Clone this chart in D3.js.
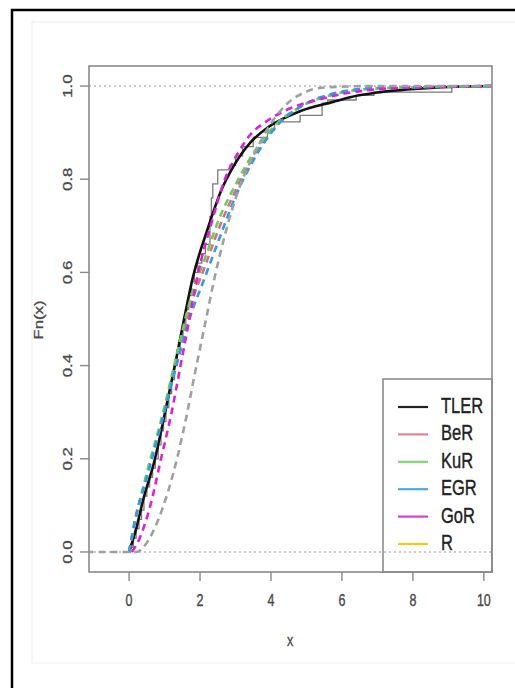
<!DOCTYPE html>
<html>
<head>
<meta charset="utf-8">
<script src="https://cdn.jsdelivr.net/npm/d3@7"></script>
<style>
	body { margin: 0; background: #fff; }
	text { font-family: "Liberation Sans", Arial, sans-serif; }
</style>
</head>
<body>
<div id="chart"></div>
<script>
// values
var xTicks = [0, 2, 4, 6, 8, 10];
var yTicks = [0, 0.2, 0.4, 0.6, 0.8, 1.0];

var legendNames = ["TLER", "BeR", "KuR", "EGR", "GoR", "R"];
var legendColors = ["#222222", "#e8808f", "#7fd86f", "#4aa8ee", "#d63fd0", "#f5c518"];

// empirical cdf: jump locations and level after each jump
var ecdfX = [0.05, 0.12, 0.2, 0.28, 0.35, 0.42, 0.5, 0.58, 0.66, 0.74, 0.82, 0.9, 0.97, 1.04,
	1.12, 1.2, 1.28, 1.36, 1.44, 1.52, 1.6, 1.68, 1.76, 1.84, 1.93, 2.05, 2.15, 2.28, 2.32,
	2.36, 2.5, 2.85, 3.0, 3.2, 3.5, 3.9, 4.1, 4.82, 5.44, 5.6, 6.4, 6.9, 9.1];
var ecdfF = [0.01, 0.03, 0.05, 0.07, 0.09, 0.12, 0.14, 0.16, 0.18, 0.2, 0.23, 0.26, 0.28, 0.31,
	0.34, 0.37, 0.4, 0.43, 0.46, 0.49, 0.52, 0.55, 0.58, 0.6, 0.62, 0.64, 0.66, 0.72, 0.76,
	0.79, 0.82, 0.83, 0.85, 0.87, 0.89, 0.905, 0.923, 0.937, 0.963, 0.97, 0.98, 0.987, 1.0];

// fitted cdfs, points
var tlerPts = [[0, 0], [0.2, 0.05], [0.39, 0.11], [0.73, 0.2], [0.96, 0.28], [1.29, 0.4], [1.55, 0.5],
	[1.8, 0.59], [2.2, 0.69], [2.62, 0.78], [2.93, 0.826], [3.41, 0.878], [3.89, 0.91], [4.34, 0.93],
	[4.82, 0.946], [5.75, 0.966], [6.23, 0.976], [7, 0.986], [8.5, 0.996], [10.3, 1]];
var berPts = [[0, 0], [0.17, 0.065], [0.5, 0.165], [0.96, 0.295], [1.3, 0.4], [1.8, 0.545], [2.1, 0.605],
	[2.56, 0.7], [3.04, 0.782], [3.5, 0.848], [4.17, 0.917], [4.82, 0.955], [5.94, 0.985], [7, 0.995], [10.3, 1]];
var kurPts = [[0, 0], [0.15, 0.06], [0.5, 0.17], [0.96, 0.3], [1.3, 0.41], [1.8, 0.56], [2.09, 0.62],
	[2.56, 0.719], [3.04, 0.794], [3.5, 0.855], [4.17, 0.92], [4.82, 0.955], [5.94, 0.985], [7, 0.995], [10.3, 1]];
var egrPts = [[0, 0], [0.17, 0.07], [0.5, 0.16], [0.96, 0.29], [1.3, 0.39], [1.7, 0.5], [2.14, 0.59],
	[2.56, 0.676], [3.04, 0.77], [3.5, 0.84], [4.17, 0.915], [4.82, 0.955], [5.94, 0.987], [7, 0.996], [10.3, 1]];
var gorPts = [[0.08, 0], [0.3, 0.03], [0.6, 0.1], [0.9, 0.2], [1.2, 0.3], [1.45, 0.4], [1.7, 0.5],
	[1.95, 0.6], [2.3, 0.7], [2.7, 0.8], [3.1, 0.86], [3.41, 0.895], [3.89, 0.925], [4.34, 0.945],
	[4.82, 0.96], [5.3, 0.97], [5.94, 0.982], [7, 0.993], [8.5, 0.998], [10.3, 1]];
var rPts = [[-1.2, 0], [0.2, 0], [0.5, 0.02], [0.8, 0.065], [1.1, 0.13], [1.35, 0.2], [1.6, 0.285],
	[1.86, 0.385], [2.17, 0.5], [2.4, 0.585], [2.7, 0.68], [3.1, 0.78], [3.5, 0.85], [4.0, 0.92],
	[4.5, 0.965], [5.0, 0.988], [5.5, 0.997], [7, 1], [10.3, 1]];

var stretch = 1.35;

function stretchedText(g, x, y, str, size, anchor, fill) {
	return g.append("text")
		.attr("transform", "translate(" + x + "," + y + ") scale(1," + stretch + ")")
		.attr("text-anchor", anchor).attr("font-size", size).attr("fill", fill)
		.attr("stroke", fill).attr("stroke-width", 0.3).text(str);
}

function rotatedText(g, x, y, str, size, fill) {
	return g.append("text")
		.attr("transform", "translate(" + x + "," + y + ") rotate(-90) scale(" + stretch + ",1)")
		.attr("text-anchor", "middle").attr("font-size", size).attr("fill", fill)
		.attr("stroke", fill).attr("stroke-width", 0.3).text(str);
}

function drawChart() {
	var svg = d3.select("#chart").append("svg").attr("width", 515).attr("height", 688);

	// outer frame of the picture
	svg.append("rect").attr("x", 32).attr("y", 22).attr("width", 500).attr("height", 641)
		.attr("fill", "none").attr("stroke", "#eeeeee").attr("stroke-width", 1);
	svg.append("path").attr("d", "M12,700 L12,10 L530,10")
		.attr("fill", "none").attr("stroke", "#000").attr("stroke-width", 2.5);

	var x = d3.scaleLinear().domain([-1.13, 10.23]).range([89, 492]);
	var y = d3.scaleLinear().domain([-0.043, 1.043]).range([572, 66]);

	var defs = svg.append("defs");
	defs.append("clipPath").attr("id", "plotclip").append("rect")
		.attr("x", 89).attr("y", 66).attr("width", 403).attr("height", 506);

	var plot = svg.append("g").attr("clip-path", "url(#plotclip)");

	// reference lines at 0 and 1
	plot.selectAll("line.ref").data([0, 1]).enter().append("line").attr("class", "ref")
		.attr("x1", 89).attr("x2", 492).attr("y1", function(d) { return y(d); })
		.attr("y2", function(d) { return y(d); })
		.attr("stroke", "#bbbbbb").attr("stroke-width", 1.5).attr("stroke-dasharray", "2,3");

	// empirical step function
	var steps = [[0, 0]];
	var prev = 0;
	for (var i = 0; i < ecdfX.length; i++) {
		steps.push([ecdfX[i], prev]);
		steps.push([ecdfX[i], ecdfF[i]]);
		prev = ecdfF[i];
	}
	steps.push([10.3, prev]);
	var straight = d3.line().x(function(d) { return x(d[0]); }).y(function(d) { return y(d[1]); });
	plot.append("path").attr("d", straight(steps)).attr("fill", "none")
		.attr("stroke", "#7a7a7a").attr("stroke-width", 1.3);

	var smooth = d3.line().x(function(d) { return x(d[0]); }).y(function(d) { return y(d[1]); })
		.curve(d3.curveMonotoneX);

	var curves = [
		{ pts: tlerPts, color: "#111111", dash: null },
		{ pts: berPts, color: "#e26a7c", dash: "7,5" },
		{ pts: kurPts, color: "#66d055", dash: "7,5" },
		{ pts: egrPts, color: "#2f9be8", dash: "7,5" },
		{ pts: gorPts, color: "#e01fd8", dash: "7,5" },
		{ pts: rPts, color: "#a0a0a0", dash: "7,5" }
	];
	curves.forEach(function(c) {
		var p = plot.append("path").attr("d", smooth(c.pts)).attr("fill", "none")
			.attr("stroke", c.color).attr("stroke-width", 2.6);
		if (c.dash) p.attr("stroke-dasharray", c.dash);
	});

	// box
	svg.append("rect").attr("x", 89).attr("y", 66).attr("width", 403).attr("height", 506)
		.attr("fill", "none").attr("stroke", "#8a8a8a").attr("stroke-width", 1.6);

	// x axis
	var xa = svg.append("g");
	xTicks.forEach(function(t) {
		xa.append("line").attr("x1", x(t)).attr("x2", x(t)).attr("y1", 572).attr("y2", 581)
			.attr("stroke", "#8a8a8a").attr("stroke-width", 1.4);
		stretchedText(xa, x(t), 606, String(t), 12.5, "middle", "#4a4a4a");
	});
	stretchedText(xa, 290, 646, "x", 12.5, "middle", "#4a4a4a");

	// y axis
	var ya = svg.append("g");
	yTicks.forEach(function(t) {
		ya.append("line").attr("x1", 80).attr("x2", 89).attr("y1", y(t)).attr("y2", y(t))
			.attr("stroke", "#8a8a8a").attr("stroke-width", 1.4);
		rotatedText(ya, 72, y(t), d3.format(".1f")(t), 12.5, "#4a4a4a");
	});
	rotatedText(ya, 43, 320, "Fn(x)", 12.5, "#4a4a4a");

	// legend
	var lg = svg.append("g");
	lg.append("rect").attr("x", 383).attr("y", 379).attr("width", 109).attr("height", 193)
		.attr("fill", "none").attr("stroke", "#8a8a8a").attr("stroke-width", 1.6);
	legendNames.forEach(function(name, k) {
		var ly = 407 + k * 27.4;
		lg.append("line").attr("x1", 398).attr("x2", 428).attr("y1", ly).attr("y2", ly)
			.attr("stroke", legendColors[k]).attr("stroke-width", 2.2);
		stretchedText(lg, 441, ly + 6, name, 16.5, "start", "#222");
	});
}

drawChart();
</script>
</body>
</html>
